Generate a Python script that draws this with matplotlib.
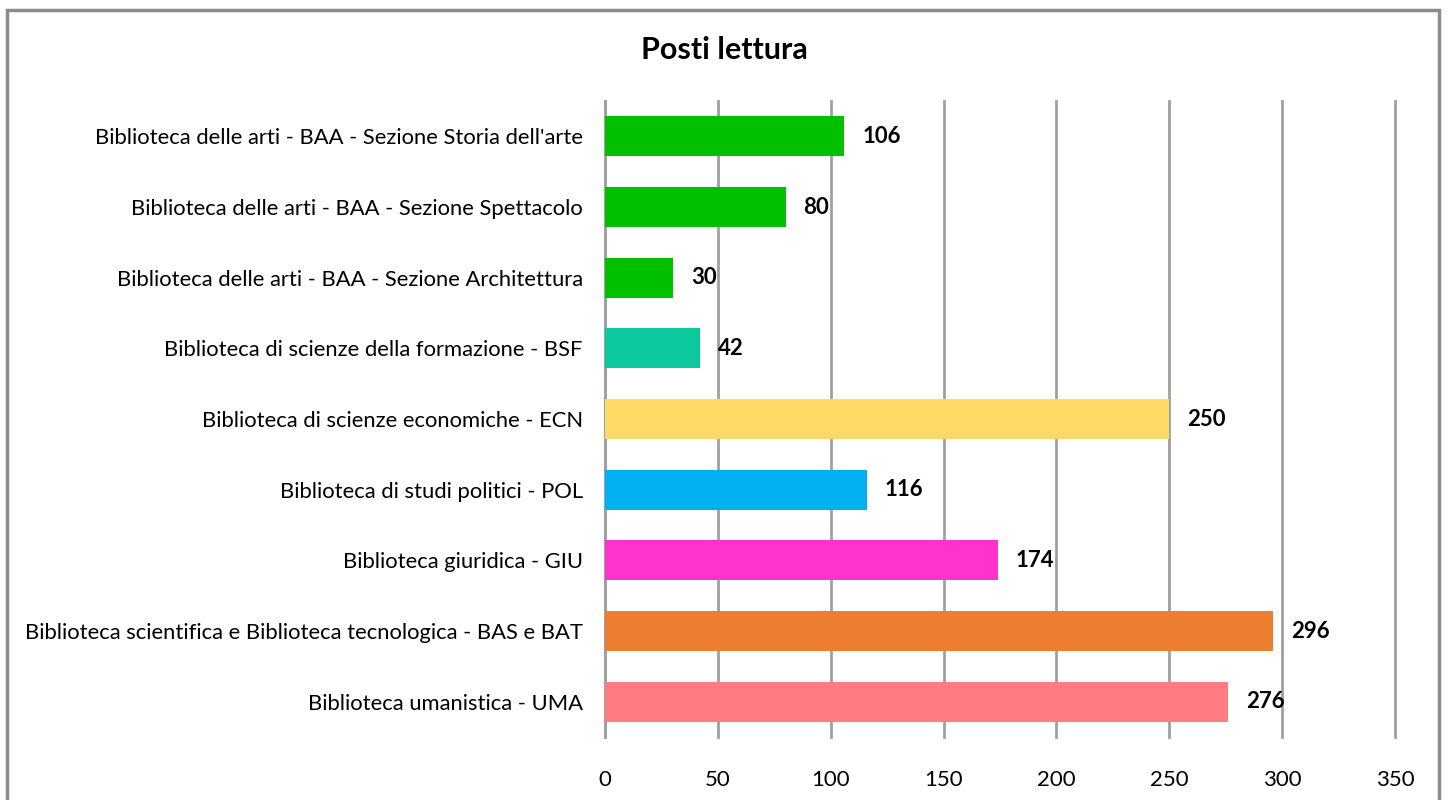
import matplotlib
matplotlib.use("Agg")
import matplotlib.pyplot as plt
from matplotlib.patches import Rectangle

plt.rcParams["font.family"] = "Lato"

# top to bottom as shown in the chart
labels = [
    "Biblioteca delle arti - BAA - Sezione Storia dell'arte",
    "Biblioteca delle arti - BAA - Sezione Spettacolo",
    "Biblioteca delle arti - BAA - Sezione Architettura",
    "Biblioteca di scienze della formazione - BSF",
    "Biblioteca di scienze economiche - ECN",
    "Biblioteca di studi politici - POL",
    "Biblioteca giuridica - GIU",
    "Biblioteca scientifica e Biblioteca tecnologica - BAS e BAT",
    "Biblioteca umanistica - UMA",
]
posti = [106, 80, 30, 42, 250, 116, 174, 296, 276]
colors = ["#00C000", "#00C000", "#00C000", "#0BC99D", "#FFD966",
          "#00B0F0", "#FF33CC", "#ED7D31", "#FF7C80"]
xticks = [0, 50, 100, 150, 200, 250, 300, 350]

fig = plt.figure(figsize=(14.48, 8), dpi=100)
ax = fig.add_axes([0.4178, 0.07875, 0.5456, 0.795])

ypos = list(range(len(labels)))[::-1]
ax.barh(ypos, posti, height=0.57, color=colors, zorder=3)
for y, v in zip(ypos, posti):
    ax.text(v + 8, y, str(v), va="center", ha="left", fontsize=16,
            fontweight="bold", zorder=4)

ax.set_xlim(0, 350)
ax.set_ylim(-0.5, len(labels) - 0.5)
ax.set_yticks(ypos)
ax.set_yticklabels(labels, fontsize=15.8)
ax.set_xticks(xticks)
ax.tick_params(axis="x", length=0, pad=24, labelsize=16)
ax.tick_params(axis="y", length=0, pad=16)
ax.grid(axis="x", color="#A0A0A0", lw=2, zorder=0)
for gl in ax.get_xgridlines():
    gl.set_clip_on(False)
for s in ["top", "right", "bottom"]:
    ax.spines[s].set_visible(False)
ax.spines["left"].set_color("#A0A0A0")
ax.spines["left"].set_linewidth(2)

fig.text(0.5, 0.938, "Posti lettura", ha="center", va="center",
         fontsize=22, fontweight="bold")

# chart border (bottom edge falls outside the image)
fig.patches.append(Rectangle((7 / 1448, -0.05), 1432 / 1448, 1.05 - 10 / 800,
                             transform=fig.transFigure, fill=False,
                             ec="#8C8C8C", lw=2.5))

fig.savefig("out.png", dpi=100)
